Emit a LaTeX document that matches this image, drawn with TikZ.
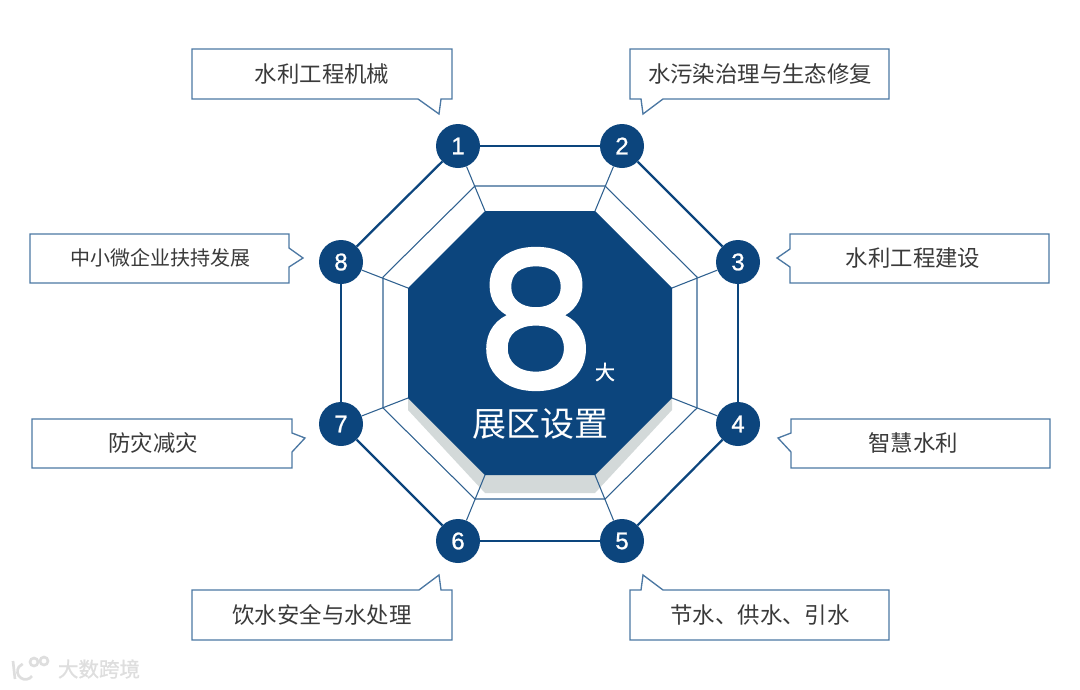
\documentclass[tikz,border=0pt]{standalone}
\usepackage{fontspec}
\setmainfont{Liberation Sans}
\newfontfamily\cjk{Noto Sans CJK SC}
\newfontfamily\cjkgrueso[FakeBold=1]{Noto Sans CJK SC}
\newfontfamily\cifra[FakeBold=1]{Liberation Sans}
\newfontfamily\bignum[FakeBold=3]{Poppins}
\definecolor{marino}{HTML}{0C457D}
\definecolor{orilla}{HTML}{4C78A3}
\definecolor{sombra}{HTML}{D3D9D9}
\definecolor{tinta}{HTML}{3A3A3A}
\usetikzlibrary{positioning}

\begin{document}
\begin{tikzpicture}[
  x=0.75pt, y=-0.75pt,
  numero/.style={circle, fill=marino, text=white, minimum size=33pt, inner sep=0pt, font=\cifra\fontsize{18}{20}\selectfont},
  recuadro/.style={draw=orilla, line width=1pt, fill=white, line join=miter},
  rotulo/.style={inner sep=0pt, text=tinta, font=\cjk\fontsize{16.8}{20}\selectfont},
  borde/.style={draw=marino, line width=1.7pt},
  radio/.style={draw=marino!85, line width=0.8pt},
  centro/.style={inner sep=0pt, text=white},
  marca/.style={draw=black!13, line width=2pt}
]
\useasboundingbox (0,0) rectangle (1080,689);
\coordinate (m1) at (475,186);
\coordinate (m2) at (605,186);
\coordinate (m3) at (697,277);
\coordinate (m4) at (697,408);
\coordinate (m5) at (605,499);
\coordinate (m6) at (475,499);
\coordinate (m7) at (383,408);
\coordinate (m8) at (383,277);
\coordinate (i1) at (485,211);
\coordinate (i2) at (595,211);
\coordinate (i3) at (672,288);
\coordinate (i4) at (672,398);
\coordinate (i5) at (595,475);
\coordinate (i6) at (485,475);
\coordinate (i7) at (408,398);
\coordinate (i8) at (408,288);
\node[numero] (n1) at (458,146) {1};
\node[numero] (n2) at (622,146) {2};
\node[numero] (n3) at (738,262) {3};
\node[numero] (n4) at (738,424) {4};
\node[numero] (n5) at (622,541) {5};
\node[numero] (n6) at (458,541) {6};
\node[numero] (n7) at (341,424) {7};
\node[numero] (n8) at (341,262) {8};
\fill[sombra] (408,398) -- (408,410) -- (485,493) -- (595,493) -- (672,410) -- (672,398) -- cycle;
\draw[radio] (m1) -- (m2) -- (m3) -- (m4) -- (m5) -- (m6) -- (m7) -- (m8) -- cycle;
\draw[radio] (n1) -- (i1);
\draw[radio] (n2) -- (i2);
\draw[radio] (n3) -- (i3);
\draw[radio] (n4) -- (i4);
\draw[radio] (n5) -- (i5);
\draw[radio] (n6) -- (i6);
\draw[radio] (n7) -- (i7);
\draw[radio] (n8) -- (i8);
\fill[marino] (i1) -- (i2) -- (i3) -- (i4) -- (i5) -- (i6) -- (i7) -- (i8) -- cycle;
\draw[borde] (n1) -- (n2);
\draw[borde] (n2) -- (n3);
\draw[borde] (n3) -- (n4);
\draw[borde] (n4) -- (n5);
\draw[borde] (n5) -- (n6);
\draw[borde] (n6) -- (n7);
\draw[borde] (n7) -- (n8);
\draw[borde] (n8) -- (n1);
\node[centro, text height=103pt, text depth=0pt, font=\bignum\fontsize{138}{146}\selectfont] (ocho) at (536,316) {\makebox[74pt]{8}};
\node[centro, font=\cjkgrueso\fontsize{15}{18}\selectfont] (da) at (605,372) {大};
\node[centro, font=\cjk\fontsize{25.5}{30}\selectfont] (zhanqu) at (540,424) {展区设置};
\draw[recuadro] (192,49) -- (452,49) -- (452,99) -- (441,99) -- (439,114) -- (418,99) -- (192,99) -- cycle;
\node[rotulo] (t1) at (322,74) {水利工程机械};
\draw[recuadro] (630,49) -- (889,49) -- (889,99) -- (663,99) -- (643,114) -- (641,99) -- (630,99) -- cycle;
\node[rotulo] (t2) at (760,74) {水污染治理与生态修复};
\draw[recuadro] (790,234) -- (1049,234) -- (1049,283) -- (790,283) -- (790,267) -- (777,258) -- (790,249) -- cycle;
\node[rotulo] (t3) at (913,258) {水利工程建设};
\draw[recuadro] (791,419) -- (1050,419) -- (1050,468) -- (791,468) -- (791,452) -- (778,438) -- (791,433) -- cycle;
\node[rotulo] (t4) at (913,443) {智慧水利};
\draw[recuadro] (630,590) -- (641,590) -- (643,575) -- (663,590) -- (889,590) -- (889,640) -- (630,640) -- cycle;
\node[rotulo] (t5) at (760,615) {节水、供水、引水};
\draw[recuadro] (192,590) -- (419,590) -- (439,575) -- (441,590) -- (452,590) -- (452,640) -- (192,640) -- cycle;
\node[rotulo] (t6) at (322,615) {饮水安全与水处理};
\draw[recuadro] (32,419) -- (292,419) -- (292,433) -- (305,438) -- (292,452) -- (292,468) -- (32,468) -- cycle;
\node[rotulo] (t7) at (153,443) {防灾减灾};
\draw[recuadro] (30,234) -- (289,234) -- (289,248) -- (303,258) -- (289,267) -- (289,283) -- (30,283) -- cycle;
\node[rotulo, font=\cjk\fontsize{15}{18}\selectfont] (t8) at (160,258) {中小微企业扶持发展};
\draw[marca] (13,661) -- (15,679);
\draw[marca] (32,676) arc (35:250:8);
\draw[marca] (34,662) circle (4);
\draw[marca] (44,661) circle (4);
\node[centro, text=black!13, font=\cjkgrueso\fontsize{15.4}{18}\selectfont] (sello) at (99,669) {大数跨境};
\end{tikzpicture}
\end{document}
